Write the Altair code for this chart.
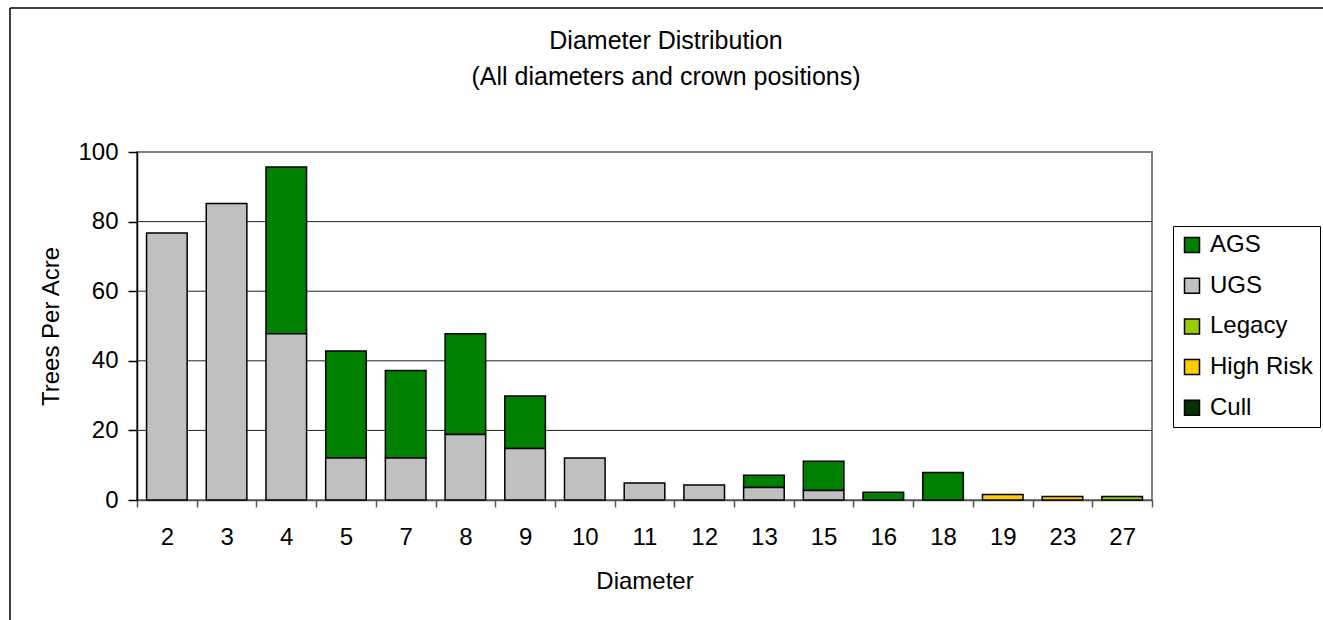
import altair as alt
import pandas as pd

# Diameter classes (inches) shown along the x axis
diameters = ["2", "3", "4", "5", "7", "8", "9", "10", "11", "12",
             "13", "15", "16", "18", "19", "23", "27"]

# Trees per acre by crown class
ugs = [76.7, 85.2, 47.8, 12.1, 12.1, 18.8, 14.8, 12.1, 4.9, 4.3,
       3.6, 2.7, 0, 0, 0, 0, 0]
ags = [0, 0, 47.9, 30.7, 25.1, 29.0, 15.1, 0, 0, 0,
       3.5, 8.4, 2.2, 7.9, 0, 0, 0]
legacy = [0, 0, 0, 0, 0, 0, 0, 0, 0, 0, 0, 0, 0, 0, 0, 0, 1.0]
high_risk = [0, 0, 0, 0, 0, 0, 0, 0, 0, 0, 0, 0, 0, 0, 1.6, 1.0, 0]
cull = [0] * 17

classes = ["AGS", "UGS", "Legacy", "High Risk", "Cull"]
class_colors = ["#008000", "#C0C0C0", "#99CC00", "#FFCC00", "#003300"]
stack_rank = {"UGS": 0, "AGS": 1, "Legacy": 2, "High Risk": 3, "Cull": 4}

y_ticks = [0, 20, 40, 60, 80, 100]
grid_values = [20, 40, 60, 80]

title_lines = ["Diameter Distribution", "(All diameters and crown positions)"]

rows = []
for cls, vals in zip(classes, [ags, ugs, legacy, high_risk, cull]):
    for d, v in zip(diameters, vals):
        if v > 0:
            rows.append({"Diameter": d, "Class": cls, "TPA": v,
                         "rank": stack_rank[cls]})
df = pd.DataFrame(rows)

FONT = "Liberation Sans"
W, H = 1015, 348
LEFT, TOP = 137, 152
TOTAL_W, TOTAL_H = 1323, 620

one = pd.DataFrame({"k": [0]})

y_scale = alt.Scale(domain=[0, 100], nice=False)
y_axis = alt.Axis(
    title="Trees Per Acre",
    values=y_ticks,
    grid=False,
    domainColor="black",
    domainWidth=1.5,
    tickColor="black",
    tickWidth=1.5,
    tickSize=9,
    labelFont=FONT,
    labelFontSize=24,
    labelColor="black",
    labelPadding=10,
    titleFont=FONT,
    titleFontSize=24,
    titleFontWeight="normal",
    titleColor="black",
    titleX=-79,
    titleY=H / 2,
    titleAngle=270,
    titleAlign="center",
    titleBaseline="alphabetic",
)

grid = alt.Chart(pd.DataFrame({"v": grid_values})).mark_rule(
    color="#222222", strokeWidth=1
).encode(y=alt.Y("v:Q", scale=y_scale, axis=y_axis))

bars = alt.Chart(df).mark_bar(
    stroke="black", strokeWidth=1.5, width=alt.RelativeBandSize(0.68)
).encode(
    x=alt.X(
        "Diameter:N",
        sort=diameters,
        scale=alt.Scale(paddingInner=0, paddingOuter=0),
        axis=alt.Axis(
            title="Diameter",
            labelAngle=0,
            tickBand="extent",
            domainColor="#555555",
            domainWidth=1.5,
            tickColor="#555555",
            tickWidth=1.5,
            tickSize=7,
            labelFont=FONT,
            labelFontSize=24,
            labelColor="black",
            labelPadding=18,
            titleFont=FONT,
            titleFontSize=24,
            titleFontWeight="normal",
            titleColor="black",
            titleY=88,
            titleBaseline="alphabetic",
        ),
    ),
    y=alt.Y("TPA:Q", stack="zero", scale=y_scale, axis=y_axis),
    color=alt.Color(
        "Class:N",
        scale=alt.Scale(domain=classes, range=class_colors),
        legend=alt.Legend(
            title=None,
            orient="none",
            legendX=1036,
            legendY=74,
            symbolType="square",
            symbolSize=225,
            symbolStrokeColor="black",
            symbolStrokeWidth=1.5,
            labelFont=FONT,
            labelFontSize=24,
            labelColor="black",
            labelOffset=6,
            labelLimit=400,
            rowPadding=16.7,
            padding=7,
            strokeColor="black",
            fillColor="white",
            cornerRadius=0,
        ),
    ),
    order=alt.Order("rank:Q", sort="ascending"),
)

title1 = alt.Chart(one).mark_text(
    font=FONT, fontSize=25, color="black", align="center", baseline="alphabetic"
).encode(x=alt.value(529), y=alt.value(49 - TOP), text=alt.value(title_lines[0]))

title2 = alt.Chart(one).mark_text(
    font=FONT, fontSize=25, color="black", align="center", baseline="alphabetic"
).encode(x=alt.value(529), y=alt.value(85 - TOP), text=alt.value(title_lines[1]))

# Outer chart frame (left and top edges)
frame_left = alt.Chart(one).mark_rule(color="black", strokeWidth=1.5).encode(
    x=alt.value(10 - LEFT), y=alt.value(8 - TOP), y2=alt.value(TOTAL_H - TOP)
)
frame_top = alt.Chart(one).mark_rule(color="black", strokeWidth=1.5).encode(
    x=alt.value(10 - LEFT), x2=alt.value(TOTAL_W - LEFT), y=alt.value(8 - TOP)
)

chart = alt.layer(grid, bars, title1, title2, frame_left, frame_top).properties(
    width=W,
    height=H,
    padding={"left": LEFT, "top": TOP, "right": TOTAL_W - LEFT - W,
             "bottom": TOTAL_H - TOP - H},
    autosize=alt.AutoSizeParams(type="none"),
    background="white",
).configure_view(stroke="#808080", strokeWidth=2)

chart.save("out.html", embed_options={"renderer": "svg", "actions": False})
